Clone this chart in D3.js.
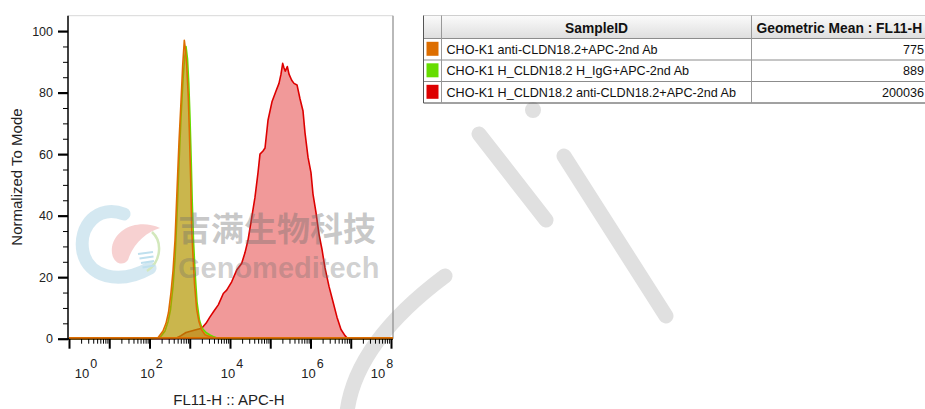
<!DOCTYPE html>
<html><head><meta charset="utf-8">
<script src="https://cdn.jsdelivr.net/npm/d3@7"></script>
<style>
body{margin:0;background:#fff;}
svg{display:block;font-family:"Liberation Sans",Arial,sans-serif;}
</style>
</head><body>
<svg id="c" width="925" height="409"></svg>
<script>
// ---------------- DATA ----------------
const sampleIDs = [
  "CHO-K1 anti-CLDN18.2+APC-2nd Ab",
  "CHO-K1 H_CLDN18.2 H_IgG+APC-2nd Ab",
  "CHO-K1 H_CLDN18.2 anti-CLDN18.2+APC-2nd Ab"
];
const geoMeans = ["775", "889", "200036"];
const seriesColors = ["#DD6E00", "#66DD00", "#DD0000"];
const tableHeaders = ["SampleID", "Geometric Mean : FL11-H"];

// FL11-H (log10 of intensity) and % of mode
const orangeLog10 = [2.012,2.211,2.335,2.410,2.472,2.534,2.584,2.634,2.683,2.733,2.783,2.825,2.865,2.894,2.924,2.964,2.989,3.024,3.048,3.081,3.118,3.173,3.230,3.297,3.379,3.503,3.627,3.752];
const orangePct   = [0,0.3,2.5,5,8.5,15,22,32,48,64,77,89,97,94,89,78.6,68,51.5,36,27,18,9.5,5.5,2.8,1.3,0.6,0.2,0];

const greenLog10 = [2.062,2.261,2.385,2.460,2.522,2.584,2.634,2.683,2.733,2.783,2.832,2.870,2.907,2.944,2.976,3.006,3.036,3.063,3.093,3.130,3.180,3.242,3.304,3.404,3.503,3.602,3.677,3.752];
const greenPct   = [0,0.4,2.5,5.5,9.5,17,26,40,57,72,84,91,95,91,83,72,58,44,32,22,12,6,3.5,2,1.2,0.6,0.2,0];

const redLog10 = [2.634,2.783,2.907,3.130,3.297,3.404,3.503,3.602,3.709,3.834,3.918,4.042,4.166,4.291,4.373,4.447,4.522,4.621,4.696,4.745,4.820,4.870,4.944,5.043,5.143,5.217,5.267,5.309,5.342,5.374,5.424,5.466,5.533,5.590,5.665,5.739,5.814,5.863,5.938,6.012,6.062,6.137,6.211,6.286,6.360,6.460,6.559,6.658,6.758,6.857,6.907,6.957];
const redPct   = [0,1,2,2.8,3.4,5,7.1,9,11,14.7,15.8,18.5,22.3,24.5,28,32,38,46,54,60,61,62,71,77,80.5,83,86,89.5,88,87,88.5,86,84,83,82.5,78,74,67,59,54,47,41,34,29,23,17,12,7,3,1,0.3,0];

const yTickValues = [0, 20, 40, 60, 80, 100];
const yMinorValues = [5,10,15,25,30,35,45,50,55,65,70,75,85,90,95];
const xDecades = [0,1,2,3,4,5,6,7,8];
const xLabelDecades = [0,2,4,6,8];
const xTitle = "FL11-H :: APC-H";
const yTitle = "Normalized To Mode";
const wmCN = "吉满生物科技";
const wmEN = "Genomeditech";

// ---------------- CHART ----------------
const svg = d3.select("#c");
const L = 68, R = 393, T = 15.7, B = 338.7;
const x = d3.scaleLog().domain([1, 1e8]).range([69, 391]);
const y = d3.scaleLinear().domain([0, 105]).range([B, T]);

const defs = svg.append("defs");
defs.append("clipPath").attr("id","plotclip").append("rect")
  .attr("x", L).attr("y", T).attr("width", R - L).attr("height", B - T + 1);
const grad = defs.append("linearGradient").attr("id","hdr").attr("x1",0).attr("y1",0).attr("x2",0).attr("y2",1);
grad.append("stop").attr("offset","0%").attr("stop-color","#fbfbfb");
grad.append("stop").attr("offset","100%").attr("stop-color","#dedede");

// background watermark strokes (decorative)
const bgw = svg.append("g").attr("fill","none").attr("stroke","#e0e0e0").attr("stroke-width",15).attr("stroke-linecap","round");
bgw.append("path").attr("d","M347,412 C352,372 378,326 445,276");
bgw.append("path").attr("d","M479,134 L546,220");
bgw.append("path").attr("d","M564,156 L666,316");
bgw.append("circle").attr("cx",533).attr("cy",110).attr("r",8).attr("fill","#e0e0e0").attr("stroke","none");

// frame
svg.append("line").attr("x1",L).attr("x2",R).attr("y1",T).attr("y2",T).attr("stroke","#d8d8d8").attr("stroke-width",1);
svg.append("line").attr("x1",R).attr("x2",R).attr("y1",T).attr("y2",B).attr("stroke","#8a8a8a").attr("stroke-width",1.2);

// series
const series = [
  {log: redLog10, pct: redPct, color: seriesColors[2], op: 0.4},
  {log: greenLog10, pct: greenPct, color: seriesColors[1], op: 0.45},
  {log: orangeLog10, pct: orangePct, color: seriesColors[0], op: 0.45}
];
const dom = x.domain();
const area = d3.area().x(d => x(d.v)).y0(y(0)).y1(d => y(d.p));
const line = d3.line().x(d => x(d.v)).y(d => y(d.p));
const plot = svg.append("g").attr("clip-path","url(#plotclip)");
series.forEach(s => {
  const pts = [{v: dom[0], p: 0}]
    .concat(s.log.map((e, i) => ({v: Math.pow(10, e), p: s.pct[i]})))
    .concat([{v: dom[1], p: 0}]);
  const xs = [{v: dom[0]/1.2, p:0}].concat(pts).concat([{v: dom[1]*1.2, p:0}]);
  plot.append("path").attr("d", area(xs)).attr("fill", s.color).attr("fill-opacity", s.op);
  plot.append("path").attr("d", line(xs)).attr("fill","none").attr("stroke", s.color)
    .attr("stroke-width", 1.6).attr("stroke-linejoin","round");
});

// x axis
const gx = svg.append("g").attr("transform", `translate(0,${B})`);
const minorVals = [];
xDecades.slice(0, -1).forEach(k => { for (let m = 2; m <= 9; m++) minorVals.push(m * Math.pow(10, k)); });
gx.append("g").call(d3.axisBottom(x).tickValues(minorVals).tickSize(5).tickFormat(""))
  .call(g => g.select(".domain").remove())
  .selectAll("line").attr("stroke","#000").attr("stroke-width",1);
gx.append("g").call(d3.axisBottom(x).tickValues(xDecades.map(k => Math.pow(10,k))).tickSize(10).tickFormat(""))
  .call(g => g.select(".domain").remove())
  .selectAll("line").attr("stroke","#000").attr("stroke-width",2);
svg.append("line").attr("x1",L).attr("x2",R).attr("y1",B).attr("y2",B).attr("stroke","#000").attr("stroke-width",1.5);
// orange baseline on top of axis line
svg.append("line").attr("x1",L+1).attr("x2",R).attr("y1",B-0.8).attr("y2",B-0.8).attr("stroke",seriesColors[0]).attr("stroke-width",1.6);

xLabelDecades.forEach(k => {
  const cx = Math.max(86, Math.min(382, x(Math.pow(10, k)) + 2));
  const t = svg.append("text").attr("x", cx).attr("y", 378).attr("text-anchor","middle")
    .attr("font-size", 13).attr("fill","#222");
  t.append("tspan").text("10");
  t.append("tspan").attr("dx", 1).attr("dy", -10).attr("font-size", 12.5).text(k);
});
svg.append("text").attr("x", 229).attr("y", 405).attr("text-anchor","middle")
  .attr("font-size", 15).attr("fill","#222").text(xTitle);

// y axis
const gy = svg.append("g").attr("transform", `translate(${L},0)`);
gy.append("g").call(d3.axisLeft(y).tickValues(yMinorValues).tickSize(5).tickFormat(""))
  .call(g => g.select(".domain").remove())
  .selectAll("line").attr("stroke","#000").attr("stroke-width",1);
const gyM = gy.append("g").call(d3.axisLeft(y).tickValues(yTickValues).tickSize(10).tickPadding(5))
  .call(g => g.select(".domain").remove());
gyM.selectAll("line").attr("stroke","#000").attr("stroke-width",2.2);
gyM.selectAll("text").attr("font-size",12.5).attr("fill","#222").attr("font-family","Liberation Sans, Arial, sans-serif");
svg.append("line").attr("x1",L).attr("x2",L).attr("y1",T).attr("y2",B+1).attr("stroke","#000").attr("stroke-width",1.5);
svg.append("text").attr("transform","translate(22,177) rotate(-90)").attr("text-anchor","middle")
  .attr("font-size", 15).attr("fill","#222").text(yTitle);

// ---------------- TABLE ----------------
const tb = svg.append("g");
const colX = [423.5, 441.5, 751.5, 1000];
const rowY = [15.5, 38.5, 60, 81.5, 103];
tb.append("rect").attr("x", colX[0]).attr("y", rowY[0]).attr("width", colX[3]-colX[0]).attr("height", rowY[1]-rowY[0]).attr("fill","url(#hdr)");
rowY.forEach((ry, i) => {
  tb.append("line").attr("x1", colX[0]).attr("x2", colX[3]).attr("y1", ry).attr("y2", ry)
    .attr("stroke", (i === 0) ? "#cfcfcf" : (i === 4 ? "#444" : "#8c8c8c")).attr("stroke-width", i === 3 ? 1.2 : 1);
});
colX.slice(0,3).forEach((cxv, i) => {
  tb.append("line").attr("x1", cxv).attr("x2", cxv).attr("y1", rowY[0]).attr("y2", rowY[4])
    .attr("stroke", i === 0 ? "#555" : "#999").attr("stroke-width", 1);
});
tb.append("text").attr("x", (colX[1]+colX[2])/2).attr("y", 32.5).attr("text-anchor","middle")
  .attr("font-weight","bold").attr("font-size", 13.8).attr("fill","#111").text(tableHeaders[0]);
tb.append("text").attr("x", colX[2]+5).attr("y", 32.5)
  .attr("font-weight","bold").attr("font-size", 13.8).attr("fill","#111").text(tableHeaders[1]);
sampleIDs.forEach((sid, i) => {
  const top = rowY[i+1], bot = rowY[i+2];
  tb.append("rect").attr("x", 426.5).attr("y", top + 3.3).attr("width", 12).attr("height", bot - top - 7.5)
    .attr("fill", seriesColors[i]);
  tb.append("text").attr("x", colX[1] + 5).attr("y", (top+bot)/2 + 4.6)
    .attr("font-size", 12.6).attr("fill","#111").text(sid);
  tb.append("text").attr("x", 924).attr("y", (top+bot)/2 + 4.6).attr("text-anchor","end")
    .attr("font-size", 12.6).attr("fill","#111").text(geoMeans[i]);
});

// ---------------- WATERMARK ----------------
const wm = svg.append("g");
wm.append("path").attr("d","M124,214 C98,204 78,226 83,252 C88,276 118,286 150,268")
  .attr("fill","none").attr("stroke","#cfe6f0").attr("stroke-width",13).attr("stroke-linecap","round").attr("opacity",0.9);
wm.append("path").attr("d","M160,228 C140,219 116,227 112,247 C110,262 122,268 128,260 C133,244 146,232 160,228 Z")
  .attr("fill","#f6cccc").attr("opacity",0.9);
wm.append("path").attr("d","M152,232 C163,242 161,262 147,271")
  .attr("fill","none").attr("stroke","#d3e8bc").attr("stroke-width",2.5);
[0,1,2,3].forEach(i => {
  wm.append("line").attr("x1",138+i*1.5).attr("x2",153+i*0.5).attr("y1",254+i*4.5).attr("y2",252+i*4.5)
    .attr("stroke","#bfe0ee").attr("stroke-width",2);
});
wm.append("text").attr("x",178).attr("y",241).attr("font-family","Noto Sans CJK SC").attr("font-weight","bold")
  .attr("font-size",33).attr("fill","rgba(110,110,110,0.38)").text(wmCN);
wm.append("text").attr("x",178).attr("y",278).attr("font-family","Liberation Sans").attr("font-weight","bold")
  .attr("font-size",29).attr("fill","rgba(110,110,110,0.32)").text(wmEN);
</script>
</body></html>
